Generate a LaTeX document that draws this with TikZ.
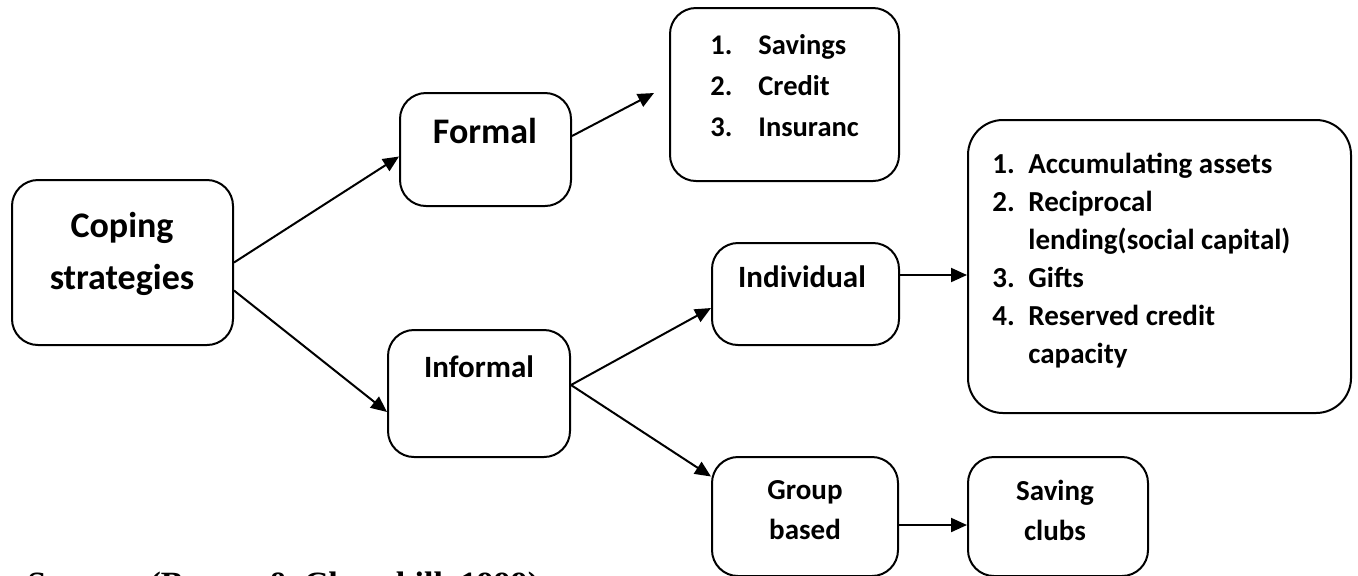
\documentclass[tikz,border=0pt]{standalone}
\usepackage{fontspec}
\setmainfont{Carlito}
\newfontfamily\srcfont{Liberation Serif}
\usetikzlibrary{arrows.meta}
\tikzset{
        box/.style={draw=black, line width=1pt, rounded corners=13pt, inner sep=0pt},
        bigbox/.style={box, rounded corners=17.5pt},
        boxtext/.style={inner sep=0pt, font=\bfseries\fontsize{15.5}{20}\selectfont},
        bigtext/.style={inner sep=0pt, align=center, font=\bfseries\fontsize{18}{26}\selectfont},
        smalltext/.style={inner sep=0pt, align=center, font=\bfseries\fontsize{14.5}{20}\selectfont},
        listtext/.style={inner sep=0pt, align=left, anchor=west},
        arr/.style={line width=1pt, -{Triangle[length=8pt, width=7pt]}}
          }
\newcommand{\itemno}[2]{\makebox[#1][l]{#2}}

\begin{document}
\begin{tikzpicture}[x=0.5pt, y=-0.5pt]
        \useasboundingbox (0,0) rectangle (1358,575);
        \clip (0,0) rectangle (1358,575);
        \node[box, minimum width=110.5pt, minimum height=82.5pt] (coping) at (122.5,262.5) {};
        \node[bigtext] (copingtxt) at (122,254) {Coping\\strategies};
        \node[box, minimum width=85.5pt, minimum height=56.5pt] (formal) at (485.5,149.5) {};
        \node[bigtext, anchor=base] (formaltxt) at (485,143) {Formal};
        \node[box, minimum width=114.5pt, minimum height=86.5pt] (savbox) at (784.5,94.5) {};
        \node[listtext, font=\bfseries\fontsize{14.25}{20.5}\selectfont] (savlist) at (710,86)
          {\itemno{24pt}{1.}Savings\\\itemno{24pt}{2.}Credit\\\itemno{24pt}{3.}Insuranc};
        \node[box, minimum width=91pt, minimum height=63.5pt] (informal) at (479,393.5) {};
        \node[boxtext, anchor=base] (informaltxt) at (479,377) {Informal};
        \node[box, minimum width=93.5pt, minimum height=51pt] (individual) at (805.5,294) {};
        \node[boxtext, anchor=base] (individualtxt) at (802,287) {Individual};
        \node[bigbox, minimum width=191.5pt, minimum height=146.5pt] (bigbox) at (1159.5,266.5) {};
        \node[listtext, font=\bfseries\fontsize{14.5}{19}\selectfont] (biglist) at (992,261)
          {\itemno{18pt}{1.}Accumulating assets\\\itemno{18pt}{2.}Reciprocal\\
           \hspace*{18pt}lending(social capital)\\\itemno{18pt}{3.}Gifts\\
           \itemno{18pt}{4.}Reserved credit\\\hspace*{18pt}capacity};
        \node[box, minimum width=93pt, minimum height=59.5pt] (group) at (805,516.5) {};
        \node[smalltext] (grouptxt) at (805,510) {Group\\based};
        \node[box, minimum width=90pt, minimum height=59.5pt] (clubs) at (1058,516.5) {};
        \node[smalltext] (clubstxt) at (1055,510.5) {Saving\\clubs};
        \node[anchor=base west, inner sep=0pt, font=\srcfont\bfseries\fontsize{17}{19}\selectfont] (source) at (27,595)
          {Source: (Brown \& Churchill, 1999)};
        \coordinate (savtip) at (654,93);
        \draw[arr] (coping.east) -- ([yshift=-3.5pt]formal.west);
        \draw[arr] ([yshift=-14pt]coping.east) -- ([yshift=-9.25pt]informal.west);
        \draw[arr] ([yshift=6.75pt]formal.east) -- (savtip);
        \draw[arr] ([yshift=4.25pt]informal.east) -- ([yshift=-7pt]individual.west);
        \draw[arr] ([yshift=4.25pt]informal.east) -- ([yshift=20pt]group.west);
        \draw[arr] ([yshift=9.5pt]individual.east) -- ([yshift=9.5pt]individual.east -| bigbox.west);
        \draw[arr] ([yshift=-4.25pt]group.east) -- ([yshift=-4.25pt]group.east -| clubs.west);
\end{tikzpicture}
\end{document}
